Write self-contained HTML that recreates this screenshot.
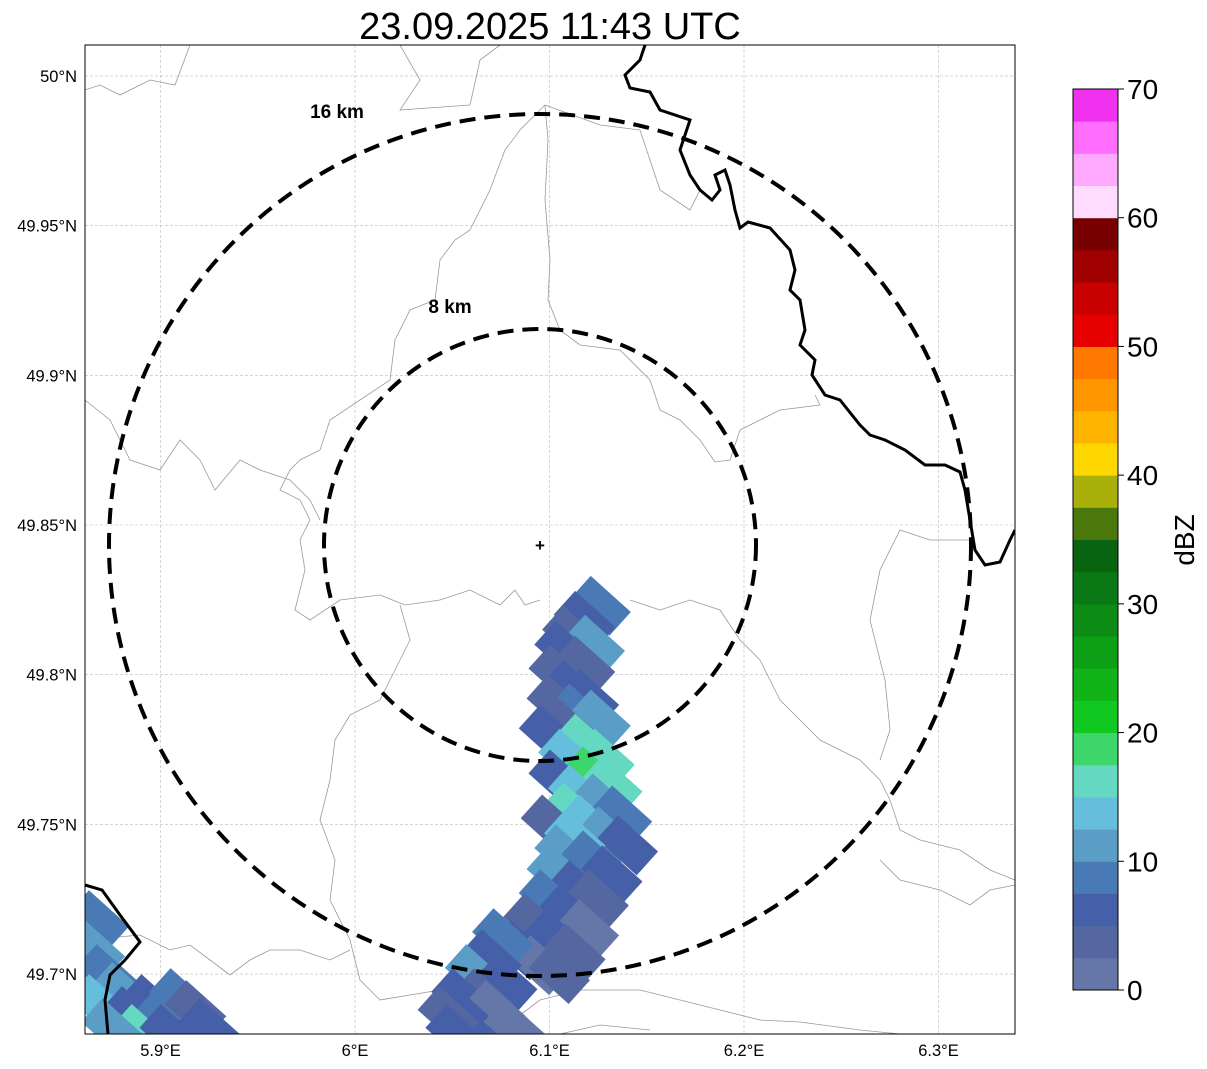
<!DOCTYPE html>
<html><head><meta charset="utf-8"><style>
body{margin:0;background:#fff;}
svg{display:block;font-family:"Liberation Sans",sans-serif;}
</style></head><body>
<svg id="c" width="1207" height="1069">
<text x="550" y="39" text-anchor="middle" font-size="38">23.09.2025 11:43 UTC</text>
<defs><clipPath id="pc"><rect x="85" y="45" width="930" height="989"/></clipPath></defs>
<g id="grid"></g>
<g clip-path="url(#pc)" fill="none" stroke="#999" stroke-width="0.8">
<path d="M545,105 L548,140 545,200 550,260 548,300 560,330 580,345 620,350 650,380 660,410 680,420 700,440 715,462 730,460 740,430 760,420 780,410 820,405 815,395"/>
<path d="M545,105 L520,130 505,150 490,190 470,230 455,240 440,260 435,300 410,310 395,340 390,380 360,400 330,420 320,450 300,460 290,470 280,490 300,500 310,520 300,540 305,570 295,610 310,620 340,600 380,595 405,605 440,600 470,590 500,605 515,590 525,605 540,600"/>
<path d="M85,90 L100,85 120,95 150,80 175,85 190,45"/>
<path d="M400,45 L420,80 400,110 470,105 480,60 500,45"/>
<path d="M545,105 L600,125 640,130 660,190 690,210 700,190"/>
<path d="M85,400 L110,420 130,460 160,470 180,440 200,460 215,490 240,460 260,470 290,480 310,500 320,520"/>
<path d="M630,600 L660,610 690,600 720,610 740,640 760,660 780,700 800,720 820,740 860,760 880,780 890,800 900,830 920,840 960,850 990,870 1015,880"/>
<path d="M970,540 L930,540 900,530 880,570 870,620 885,680 890,730 880,760"/>
<path d="M400,605 L410,640 395,670 380,700 350,715 335,740 330,780 320,820 335,860 330,900 350,940 360,980 380,1000 440,990"/>
<path d="M85,940 L140,935 170,950 190,945 210,960 230,975 250,960 270,950 300,950 330,960 350,950"/>
<path d="M480,1034 L520,1015 540,1000 580,990 640,990 680,1000 720,1010 760,1020 800,1022 860,1030 900,1034"/>
<path d="M1015,885 L990,890 970,905 940,890 900,880 880,860"/>
<path d="M560,1034 L600,1025 650,1030"/>
</g>
<g id="cells" clip-path="url(#pc)"></g>
<g clip-path="url(#pc)" fill="none" stroke="#000" stroke-width="3">
<path d="M645,45 L640,60 625,75 630,88 650,92 660,110 690,120 685,135 680,150 690,175 700,190 712,200 720,190 715,175 725,170 730,185 735,210 740,228 748,222 770,228 790,250 795,270 790,290 800,300 805,330 800,345 815,360 812,375 825,395 840,400 860,425 870,435 885,440 905,450 925,465 945,465 960,472 965,490 970,520 975,550 985,565 1000,562 1010,540 1015,530"/>
<path d="M85,885 L102,890 120,915 140,942 125,960 110,975 105,1000 108,1034"/>
</g>
<g id="circles" fill="none" stroke="#000" stroke-width="4" stroke-dasharray="16,9">
<circle cx="540" cy="545" r="431"/>
<circle cx="540" cy="545" r="216"/>
</g>
<text x="337" y="118" text-anchor="middle" font-size="19" font-weight="bold">16 km</text>
<text x="450" y="313" text-anchor="middle" font-size="19" font-weight="bold">8 km</text>
<text x="540" y="551" text-anchor="middle" font-size="17" font-weight="bold">+</text>
<rect x="85" y="45" width="930" height="989" fill="none" stroke="#000" stroke-width="1"/>
<g id="ticks" font-size="16.5"></g>
<g id="cbar"></g>
<text transform="translate(1194,540) rotate(-90)" text-anchor="middle" font-size="28">dBZ</text>
</svg>
<script>
const lonTicks=[5.9,6.0,6.1,6.2,6.3];
const lonLabels=["5.9°E","6°E","6.1°E","6.2°E","6.3°E"];
const latTicks=[50.0,49.95,49.9,49.85,49.8,49.75,49.7];
const latLabels=["50°N","49.95°N","49.9°N","49.85°N","49.8°N","49.75°N","49.7°N"];
const cbarLevels=[0,10,20,30,40,50,60,70];
const cbarColors=["#6577a8","#5567a0","#4560a8","#4a7ab5","#5a9ec8","#64bedc","#64d8c0","#3cd66a","#10c820","#10b418","#0ea014","#0c8c14","#0a7814","#086410","#4a780a","#aab00a","#ffd700","#ffb400","#ff9600","#ff7800","#e60000","#c80000","#a00000","#780000","#ffdcff","#ffaaff","#ff6eff","#f032f0"];
const cellLon=[6.126,6.118,6.112,6.123,6.108,6.118,6.105,6.112,6.120,6.104,6.115,6.126,6.108,6.100,
6.118,6.128,6.110,6.122,6.132,6.105,6.115,6.127,6.137,6.112,6.120,6.101,6.130,6.140,6.113,6.108,6.122,6.132,6.104,
6.115,6.125,6.100,6.110,6.120,6.092,6.103,6.113,6.085,6.095,6.105,6.076,6.070,6.062,6.078,6.066,6.055,6.072,6.060,6.048,6.052,6.082,
5.868,5.866,5.872,5.880,5.868,5.885,5.895,5.902,5.910,5.918,5.890,5.905,5.925,5.875];
const cellLat=[49.823,49.818,49.813,49.810,49.808,49.803,49.800,49.795,49.792,49.790,49.787,49.785,49.783,49.780,
49.777,49.772,49.772,49.766,49.763,49.765,49.760,49.757,49.753,49.754,49.750,49.750,49.746,49.743,49.745,49.740,49.738,49.733,49.733,
49.728,49.725,49.725,49.720,49.715,49.717,49.712,49.707,49.708,49.703,49.700,49.712,49.705,49.700,49.697,49.692,49.692,49.688,49.684,49.686,49.680,49.682,
49.718,49.708,49.700,49.694,49.690,49.686,49.690,49.685,49.692,49.688,49.680,49.680,49.682,49.682];
const cellDbz=[8,5,3,10,6,4,3,7,5,4,8,11,3,5,
16,17,13,18,15,6,14,12,9,17,13,4,10,6,14,11,9,5,12,
6,3,8,5,2,4,7,3,5,2,3,9,6,10,5,4,7,2,6,3,5,1,
9,12,8,11,13,7,5,8,9,4,16,6,7,10];
const NS="http://www.w3.org/2000/svg";
const xs=lon=>355+(lon-6.0)*1945;
const ys=lat=>525-(lat-49.85)*2994;
const grid=document.getElementById('grid'),ticks=document.getElementById('ticks');
lonTicks.forEach((v,i)=>{
 const l=document.createElementNS(NS,'line');
 l.setAttribute('x1',xs(v));l.setAttribute('x2',xs(v));l.setAttribute('y1',45);l.setAttribute('y2',1034);
 l.setAttribute('stroke','#bbb');l.setAttribute('stroke-width','0.6');l.setAttribute('stroke-dasharray','3,2');
 
 
 grid.appendChild(l);
 const t=document.createElementNS(NS,'text');
 t.setAttribute('x',xs(v));t.setAttribute('y',1056);t.setAttribute('text-anchor','middle');t.textContent=lonLabels[i];
 
 
 ticks.appendChild(t);
});
latTicks.forEach((v,i)=>{
 const l=document.createElementNS(NS,'line');
 l.setAttribute('y1',ys(v));l.setAttribute('y2',ys(v));l.setAttribute('x1',85);l.setAttribute('x2',1015);
 l.setAttribute('stroke','#bbb');l.setAttribute('stroke-width','0.6');l.setAttribute('stroke-dasharray','3,2');
 
 
 grid.appendChild(l);
 const t=document.createElementNS(NS,'text');
 t.setAttribute('x',77);t.setAttribute('y',ys(v)+6);t.setAttribute('text-anchor','end');t.textContent=latLabels[i];
 
 
 ticks.appendChild(t);
});
const colorFor=d=>cbarColors[Math.max(0,Math.min(27,Math.floor(d/2.5)))];
const cells=document.getElementById('cells');
cellLon.forEach((lon,i)=>{
 const r=document.createElementNS(NS,'rect');
 const cx=xs(lon),cy=ys(cellLat[i]);
 r.setAttribute('x',cx-27);r.setAttribute('y',cy-16);r.setAttribute('width',54);r.setAttribute('height',32);
 r.setAttribute('transform','rotate(42 '+cx+' '+cy+')');
 r.setAttribute('fill',colorFor(cellDbz[i]));
 
 
 cells.appendChild(r);
});
const cb=document.getElementById('cbar');
const cy0=990,cy1=89,vmax=70,ch=(cy0-cy1)/vmax;
cbarColors.forEach((c,i)=>{
 const r=document.createElementNS(NS,'rect');
 r.setAttribute('x',1073);r.setAttribute('width',45);
 r.setAttribute('y',cy0-(i+1)*2.5*ch);r.setAttribute('height',2.5*ch+0.5);r.setAttribute('fill',c);
 
 
 cb.appendChild(r);
});
const fr=document.createElementNS(NS,'rect');
fr.setAttribute('x',1073);fr.setAttribute('y',cy1);fr.setAttribute('width',45);fr.setAttribute('height',cy0-cy1);
fr.setAttribute('fill','none');fr.setAttribute('stroke','#000');


cb.appendChild(fr);
cbarLevels.forEach(v=>{
 const y=cy0-v*ch;
 const l=document.createElementNS(NS,'line');
 l.setAttribute('x1',1118);l.setAttribute('x2',1124);l.setAttribute('y1',y);l.setAttribute('y2',y);l.setAttribute('stroke','#000');
 
 
 cb.appendChild(l);
 const t=document.createElementNS(NS,'text');
 t.setAttribute('x',1127);t.setAttribute('y',y+10);t.setAttribute('font-size','28');t.textContent=v;
 
 
 cb.appendChild(t);
});
</script>
</body></html>
